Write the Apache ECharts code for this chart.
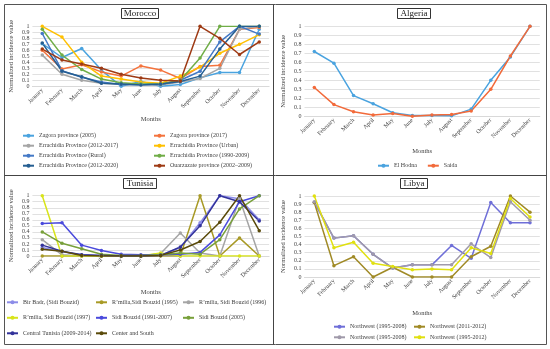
<!DOCTYPE html>
<html><head><meta charset="utf-8">
<script src="https://cdn.jsdelivr.net/npm/echarts/dist/echarts.min.js"></script>
<style>html,body{margin:0;padding:0;background:#fff}#c{width:550px;height:349px}</style>
</head><body><div id="c"></div>
<script>
const months = ['January','February','March','April','May','June','July','August','September','October','November','December'];

// Morocco
const zagora2005 = [0.71, 0.48, 0.63, 0.27, 0.0, 0.08, 0.0, 0.03, 0.14, 0.23, 0.23, 0.95];
const zagora2017 = [0.60, 0.29, 0.36, 0.24, 0.17, 0.34, 0.27, 0.13, 0.33, 0.35, 0.95, 0.98];
const errachidia2012_2017 = [0.52, 0.20, 0.10, 0.05, 0.03, 0.03, 0.02, 0.07, 0.13, 0.30, 0.95, 1.0];
const errachidiaUrban = [1.0, 0.82, 0.40, 0.17, 0.12, 0.07, 0.05, 0.17, 0.32, 0.55, 0.70, 0.86];
const errachidiaRural = [0.88, 0.26, 0.15, 0.07, 0.03, 0.03, 0.03, 0.10, 0.25, 0.74, 1.0, 0.87];
const errachidia1990_2009 = [0.95, 0.52, 0.28, 0.12, 0.06, 0.04, 0.04, 0.10, 0.47, 1.0, 1.0, 1.0];
const errachidia2012_2020 = [0.72, 0.25, 0.16, 0.05, 0.04, 0.02, 0.04, 0.08, 0.17, 0.62, 1.0, 1.0];
const ouarzazate = [0.62, 0.44, 0.37, 0.30, 0.20, 0.14, 0.10, 0.09, 1.0, 0.80, 0.53, 0.74];

// Algeria
const elHodna = [0.72, 0.59, 0.23, 0.14, 0.04, 0.01, 0.01, 0.005, 0.08, 0.40, 0.66, 1.0];
const saida = [0.32, 0.13, 0.05, 0.015, 0.03, 0.0, 0.015, 0.02, 0.06, 0.30, 0.67, 1.0];

// Tunisia
const birBadr = [0.14, 0.07, 0.02, 0.01, 0.0, 0.0, 0.01, 0.14, 0.55, 1.0, 0.95, 0.60];
const rmilia1995 = [0, 0, 0, 0, 0, 0, 0, 0, 1.0, 0, 0.30, 0];
const rmilia1996 = [0.27, 0.02, 0, 0, 0, 0, 0.04, 0.38, 0.05, 0, 0.95, 0];
const rmilia1997 = [1.0, 0, 0, 0, 0, 0, 0.05, 0, 0, 0, 0, 0];
const sidiBouzid1991_2007 = [0.54, 0.55, 0.18, 0.09, 0.03, 0.02, 0.02, 0.03, 0.06, 0.35, 0.90, 1.0];
const sidiBouzid2005 = [0.40, 0.21, 0.12, 0.03, 0.01, 0.01, 0.02, 0.05, 0.03, 0.27, 0.78, 1.0];
const centralTunisia = [0.18, 0.08, 0.02, 0.01, 0.0, 0.0, 0.01, 0.15, 0.50, 1.0, 0.90, 0.58];
const centerSouth = [0.11, 0.08, 0.01, 0.0, 0.0, 0.0, 0.01, 0.10, 0.24, 0.56, 1.0, 0.42];

// Libya
const nw1995_2008a = [0.92, 0.48, 0.51, 0.28, 0.11, 0.15, 0.15, 0.39, 0.23, 0.92, 0.67, 0.67];
const nw2011_2012 = [0.92, 0.14, 0.25, 0.0, 0.12, 0.0, 0.0, 0.0, 0.25, 0.38, 1.0, 0.80];
const nw1995_2008b = [0.93, 0.48, 0.51, 0.28, 0.11, 0.15, 0.15, 0.15, 0.41, 0.24, 0.93, 0.70];
const nw1995_2012 = [1.0, 0.36, 0.43, 0.17, 0.13, 0.09, 0.10, 0.09, 0.36, 0.29, 0.97, 0.74];

const FONT = 'Liberation Serif';
const TXT = '#404040';

const panels = [
  {title:'Morocco', cx:137, grid:{left:32.4, top:26.3, width:236.7, height:60}, nameGap:29,
   series:[
    ['Zagora province (2005)', zagora2005, '#4AA3DF'],
    ['Zagora province (2017)', zagora2017, '#F4733D'],
    ['Errachidia Province (2012-2017)', errachidia2012_2017, '#A5A5A5'],
    ['Errachidia Province (Urban)', errachidiaUrban, '#FFC000'],
    ['Errachidia Province (Rural)', errachidiaRural, '#4479C6'],
    ['Errachidia Province (1990-2009)', errachidia1990_2009, '#70AD47'],
    ['Errachidia Province (2012-2020)', errachidia2012_2020, '#255E91'],
    ['Ouarzazate province (2002–2009)', ouarzazate, '#9E3A14']
   ]},
  {title:'Algeria', cx:411, grid:{left:304.5, top:26.3, width:235.3, height:90}, nameGap:31,
   series:[
    ['El Hodna', elHodna, '#4AA3DF'],
    ['Saida', saida, '#F26A3A']
   ]},
  {title:'Tunisia', cx:137, grid:{left:32.4, top:195.7, width:236.7, height:60.3}, nameGap:33,
   series:[
    ['Bir Badr, (Sidi Bouzid)', birBadr, '#8C8CE8'],
    ['R’milia,Sidi Bouzid (1995)', rmilia1995, '#A89A26'],
    ['R’milia, Sidi Bouzid (1996)', rmilia1996, '#A5A5A5'],
    ['R’milia, Sidi Bouzid (1997)', rmilia1997, '#D8E41A'],
    ['Sidi Bouzid (1991-2007)', sidiBouzid1991_2007, '#4A4ADC'],
    ['Sidi Bouzid (2005)', sidiBouzid2005, '#78A03A'],
    ['Central Tunisia (2009-2014)', centralTunisia, '#32329A'],
    ['Center and South', centerSouth, '#5A4A0A']
   ]},
  {title:'Libya', cx:411, grid:{left:304.5, top:196, width:235.3, height:81}, nameGap:33,
   series:[
    ['Northwest (1995-2008)', nw1995_2008a, '#6F6FD8'],
    ['Northwest (2011-2012)', nw2011_2012, '#A08A26'],
    ['Northwest (1995-2008)\u200B', nw1995_2008b, '#A09AAA'],
    ['Northwest (1995-2012)', nw1995_2012, '#E0E010']
   ]}
];

const option = {
  animation:false,
  textStyle:{fontFamily:FONT},
  title:[], grid:[], xAxis:[], yAxis:[], series:[], legend:[],
  graphic:[
    {type:'rect', shape:{x:4.5,y:4.5,width:542,height:340}, style:{fill:'none', stroke:'#555', lineWidth:1}},
    {type:'line', shape:{x1:273.5,y1:4.5,x2:273.5,y2:344.5}, style:{stroke:'#444', lineWidth:1}},
    {type:'line', shape:{x1:4.5,y1:175.5,x2:546.5,y2:175.5}, style:{stroke:'#444', lineWidth:1}}
  ]
};

panels.forEach((p, i) => {
  option.title.push({text:p.title, left:p.cx, top:p.grid.top > 150 ? 178 : 8, textAlign:'center',
    borderColor:'#333', borderWidth:1, padding:[1,3,1,3],
    textStyle:{fontFamily:FONT, fontSize:9, fontWeight:'normal', color:'#222'}});
  option.grid.push(Object.assign({containLabel:false}, p.grid));
  option.xAxis.push({type:'category', gridIndex:i, data:months, boundaryGap:true,
    name:'Months', nameLocation:'middle', nameGap:p.nameGap,
    nameTextStyle:{fontFamily:FONT, fontSize:6.5, color:TXT},
    axisLine:{show:true, lineStyle:{color:'#D9D9D9'}}, axisTick:{show:false},
    axisLabel:{rotate:45, fontSize:6, fontFamily:FONT, color:TXT, margin:3, interval:0}});
  option.yAxis.push({type:'value', gridIndex:i, min:0, max:1, interval:0.1,
    name:'Normalized incidence value', nameLocation:'middle', nameRotate:90, nameGap:18,
    nameTextStyle:{fontFamily:FONT, fontSize:6.5, color:TXT},
    axisLine:{show:false}, axisTick:{show:false},
    splitLine:{lineStyle:{color:'#D9D9D9', width:0.8}},
    axisLabel:{fontSize:6, fontFamily:FONT, color:TXT, margin:3,
      formatter:v => (v === 0 ? '0' : (Math.abs(v-1) < 1e-9 ? '1' : v.toFixed(1)))}});
  p.series.forEach(s => {
    option.series.push({type:'line', name:s[0], data:s[1], xAxisIndex:i, yAxisIndex:i,
      symbol:'circle', symbolSize:3.5, color:s[2],
      lineStyle:{width:1.5, color:s[2]}, itemStyle:{color:s[2]}});
  });
});

const legBase = {itemWidth:11, itemHeight:5, orient:'vertical', padding:0,
  textStyle:{fontFamily:FONT, fontSize:6, color:TXT, lineHeight:8}};
function leg(names, left, top, gap, orient){
  option.legend.push(Object.assign({}, legBase, {data:names, left:left, top:top, itemGap:gap, orient:orient||'vertical'}));
}
const M = panels[0].series.map(s=>s[0]);
leg([M[0],M[2],M[4],M[6]], 22, 131.7, 2);
leg([M[1],M[3],M[5],M[7]], 153, 131.7, 2);
const A = panels[1].series.map(s=>s[0]);
leg(A, 377, 161.7, 10, 'horizontal');
const T = panels[2].series.map(s=>s[0]);
leg([T[0],T[3],T[6]], 6, 298.3, 7.5);
leg([T[1],T[4],T[7]], 95, 298.3, 7.5);
leg([T[2],T[5]], 182, 298.3, 7.5);
const L = panels[3].series.map(s=>s[0]);
leg([L[0],L[2]], 333, 322.7, 2.6);
leg([L[1],L[3]], 413, 322.7, 2.6);

const chart = echarts.init(document.getElementById('c'), null, {renderer:'canvas'});
chart.setOption(option);
</script></body></html>
